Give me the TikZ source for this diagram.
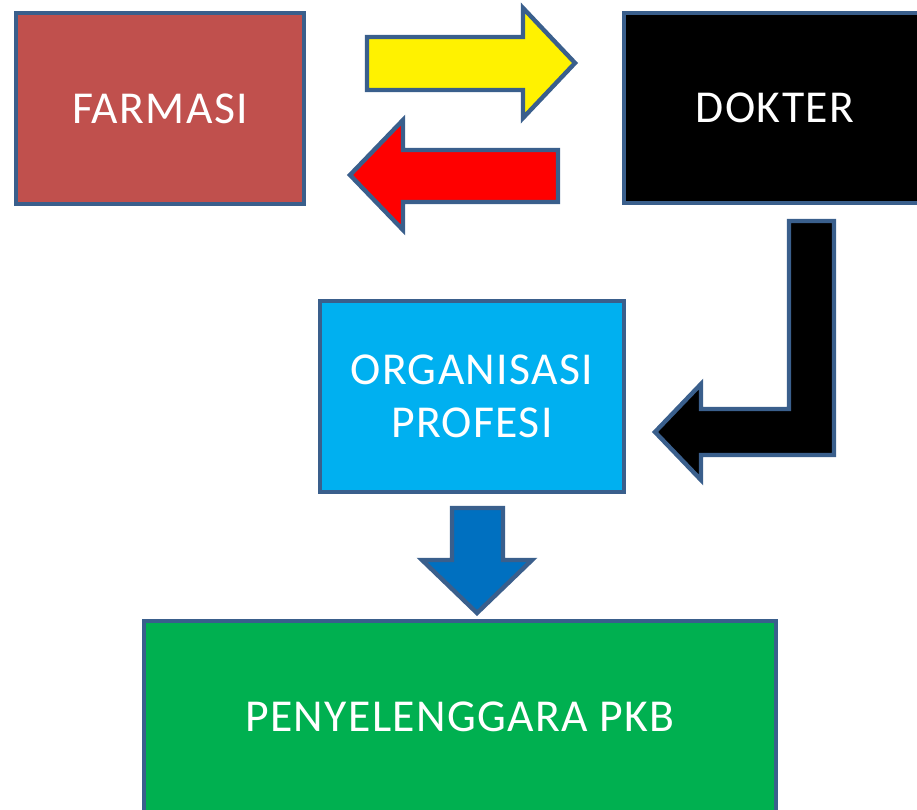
\documentclass[tikz,border=0pt]{standalone}
\usepackage{fontspec}
\setmainfont[LetterSpace=3]{Carlito}
\definecolor{edge}{HTML}{3A5F8C}
\definecolor{farmasi}{HTML}{C0504D}
\definecolor{organisasi}{HTML}{00B0F0}
\definecolor{pkb}{HTML}{00B050}
\definecolor{turun}{HTML}{0070C0}
\tikzset{
  box/.style={draw=edge, line width=2.7pt, text=white, align=center,
    inner sep=0pt, font=\fontsize{26}{30}\selectfont},
  blockarrow/.style={draw=edge, line width=2.5pt, line join=miter},
}
\begin{document}
\begin{tikzpicture}
    \def\x{0.02}
    \def\y{-0.02}
    \useasboundingbox (0,0) rectangle (917*\x, 809*\y);
    \clip (0,0) rectangle (917*\x, 809*\y);
    \node[box, fill=farmasi, minimum width=5.76cm, minimum height=3.82cm] (A0_0) at (160*\x, 108.5*\y) {FARMASI};
    \node[box, fill=black, minimum width=6.04cm, minimum height=3.80cm] (A0_2) at (775*\x, 108*\y) {DOKTER};
    \node[box, fill=organisasi, minimum width=6.08cm, minimum height=3.82cm] (A1_1) at (472*\x, 396.5*\y) {ORGANISASI\\PROFESI};
    \node[box, fill=pkb, minimum width=12.64cm, minimum height=3.84cm] (A2_1) at (460*\x, 717*\y) {PENYELENGGARA PKB};
    % block arrows
    \filldraw[blockarrow, fill=yellow] (367*\x, 37*\y) -- (523*\x, 37*\y) -- (523*\x, 8*\y)
      -- (575*\x, 63*\y) -- (523*\x, 118*\y) -- (523*\x, 90*\y) -- (367*\x, 90*\y) -- cycle;
    \filldraw[blockarrow, fill=red] (558*\x, 150*\y) -- (403*\x, 150*\y) -- (403*\x, 120*\y)
      -- (350*\x, 175*\y) -- (403*\x, 230*\y) -- (403*\x, 202*\y) -- (558*\x, 202*\y) -- cycle;
    \filldraw[blockarrow, fill=black] (789*\x, 221*\y) -- (834*\x, 221*\y) -- (834*\x, 455*\y)
      -- (701*\x, 455*\y) -- (701*\x, 480*\y) -- (655*\x, 432*\y) -- (701*\x, 384*\y)
      -- (701*\x, 409*\y) -- (789*\x, 409*\y) -- cycle;
    \filldraw[blockarrow, fill=turun] (452*\x, 508*\y) -- (503*\x, 508*\y) -- (503*\x, 560*\y)
      -- (532*\x, 560*\y) -- (477*\x, 613*\y) -- (422*\x, 560*\y) -- (452*\x, 560*\y) -- cycle;
  \end{tikzpicture}
\end{document}
